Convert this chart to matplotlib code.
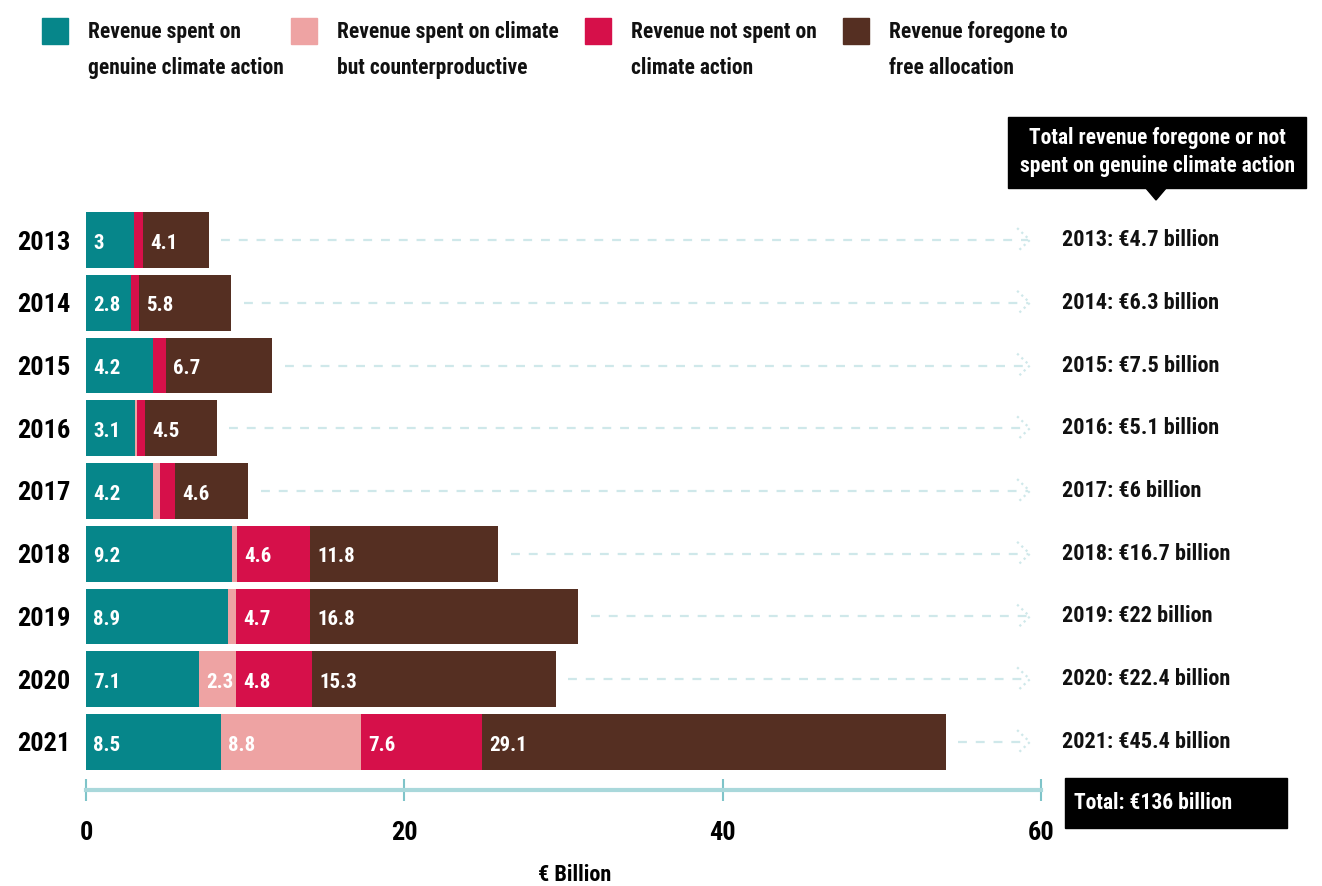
import numpy as np
import matplotlib
matplotlib.use('agg')
import matplotlib.pyplot as plt
import matplotlib.transforms as mtransforms
from matplotlib import font_manager
from matplotlib.patches import Rectangle, Polygon

# data (EUR billion)
years = ['2013', '2014', '2015', '2016', '2017', '2018', '2019', '2020', '2021']
genuine = [3, 2.8, 4.2, 3.1, 4.2, 9.2, 8.9, 7.1, 8.5]
counterproductive = [0, 0, 0, 0.1, 0.45, 0.3, 0.5, 2.3, 8.8]
not_spent = [0.6, 0.5, 0.8, 0.5, 0.95, 4.6, 4.7, 4.8, 7.6]
foregone = [4.1, 5.8, 6.7, 4.5, 4.6, 11.8, 16.8, 15.3, 29.1]
totals = [4.7, 6.3, 7.5, 5.1, 6, 16.7, 22, 22.4, 45.4]

series_names = ['Revenue spent on\ngenuine climate action',
                'Revenue spent on climate\nbut counterproductive',
                'Revenue not spent on\nclimate action',
                'Revenue foregone to\nfree allocation']
colors = ['#06868a', '#eea3a3', '#d6104a', '#552f22']

# pick a narrow font if there is one
names = {f.name for f in font_manager.fontManager.ttflist}
for cand in ['Roboto Condensed', 'Liberation Sans Narrow', 'Open Sans Condensed']:
    if cand in names:
        plt.rcParams['font.family'] = [cand, 'DejaVu Sans']
        break
else:
    plt.rcParams['font.family'] = ['DejaVu Sans']
    plt.rcParams['font.stretch'] = 'condensed'
plt.rcParams['font.weight'] = 'bold'
plt.rcParams['axes.labelweight'] = 'bold'

W, H = 1322, 886


def fx(x):
    return x / W


def fy(y):
    return 1 - y / H


fig = plt.figure(figsize=(W / 100, H / 100), dpi=100)
ax = fig.add_axes([fx(86), fy(790), fx(1041) - fx(86), fy(192) - fy(790)])
ax.set_xlim(0, 60)
ax.set_ylim(len(years) - 1 + 0.765, -0.765)

ypos = np.arange(len(years))
segments = [genuine, counterproductive, not_spent, foregone]
left = np.zeros(len(years))
for vals, col in zip(segments, colors):
    vals = np.array(vals, dtype=float)
    ax.barh(ypos, vals, left=left, height=0.89, color=col, linewidth=0)
    for i, v in enumerate(vals):
        if v >= 2:
            ax.text(left[i] + 0.45, ypos[i] + 0.05, f'{v:g}', color='white',
                    fontsize=15, va='center', ha='left')
    left += vals

# dashed guides with chevrons and totals on the right
side = mtransforms.blended_transform_factory(fig.transFigure, ax.transData)
for i, end in enumerate(left):
    ax.plot([end + 0.8, 59.2], [ypos[i], ypos[i]], color='#cfe8ea', lw=1.6,
            dashes=(4, 4), clip_on=False)
    ax.plot([58.5, 59.3, 58.5], [ypos[i] - 0.19, ypos[i], ypos[i] + 0.19],
            color='#cfe8ea', lw=1.6, ls=':', clip_on=False)
    ax.text(fx(1062), ypos[i], f'{years[i]}: €{totals[i]:g} billion', fontsize=16,
            va='center', ha='left', color='#111111', transform=side, clip_on=False)

ax.set_yticks(ypos)
ax.set_yticklabels(years, fontsize=19)
ax.tick_params(axis='y', length=0, pad=11.5)
ax.set_xticks([0, 20, 40, 60])
ax.tick_params(axis='x', direction='inout', length=16, width=1.5,
               color='#7fc4c9', labelsize=19, pad=14)
for s in ['top', 'right', 'left']:
    ax.spines[s].set_visible(False)
ax.spines['bottom'].set_color('#a9d8db')
ax.spines['bottom'].set_linewidth(3)
ax.set_xlabel('€ Billion', fontsize=16, labelpad=14)
ax.xaxis.label.set_x(0.512)

# legend drawn by hand so squares line up with the first text line
leg_x = [42, 291, 585, 843]
for lx, name, col in zip(leg_x, series_names, colors):
    fig.add_artist(Rectangle((fx(lx), fy(44)), fx(26), 26 / H,
                             transform=fig.transFigure, color=col))
    fig.text(fx(lx + 46), fy(21), name, fontsize=15.5, va='top', ha='left',
             linespacing=1.85, color='#111111')

# callout box
fig.add_artist(Rectangle((fx(1008), fy(188)), fx(298), 71 / H,
                         transform=fig.transFigure, color='black'))
fig.add_artist(Polygon([(fx(1145), fy(187)), (fx(1167), fy(187)), (fx(1156), fy(200))],
                       closed=True, transform=fig.transFigure, color='black'))
fig.text(fx(1157), fy(152), 'Total revenue foregone or not\nspent on genuine climate action',
         fontsize=15.5, color='white', ha='center', va='center', linespacing=1.3)

# total box
fig.add_artist(Rectangle((fx(1065), fy(828)), fx(222), 50 / H,
                         transform=fig.transFigure, color='black'))
fig.text(fx(1074), fy(803), f'Total: €{sum(totals):.0f} billion', fontsize=15.5,
         color='white', ha='left', va='center')

fig.savefig('out.png', dpi=100)
